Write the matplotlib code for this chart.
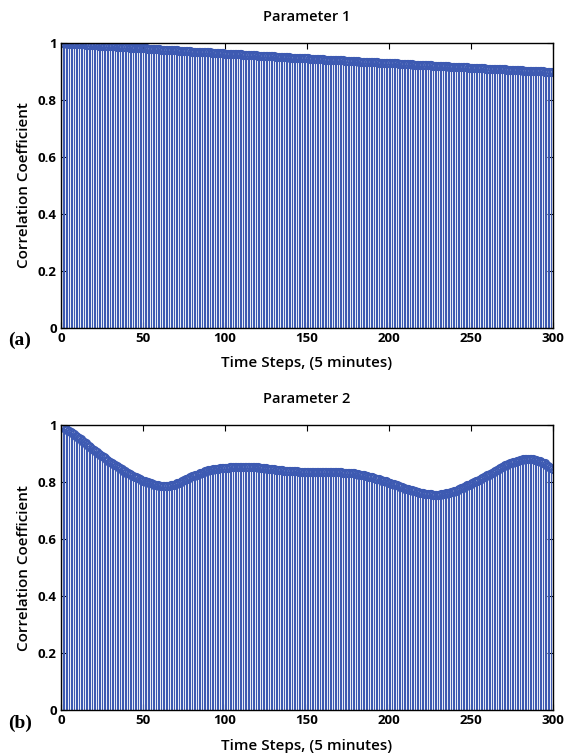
import numpy as np
import matplotlib
matplotlib.use("Agg")
import matplotlib.pyplot as plt

# time steps 0..300 (5 minute steps)
steps = list(range(301))

# Parameter 1 correlation coefficient
param1 = [
    1.000, 1.000, 0.999, 0.999, 0.998, 0.998, 0.998, 0.997, 0.997, 0.997,
    0.996, 0.996, 0.995, 0.995, 0.995, 0.994, 0.994, 0.994, 0.993, 0.993,
    0.992, 0.992, 0.992, 0.991, 0.991, 0.991, 0.990, 0.990, 0.989, 0.989,
    0.989, 0.988, 0.988, 0.988, 0.987, 0.987, 0.986, 0.986, 0.986, 0.985,
    0.985, 0.985, 0.984, 0.984, 0.984, 0.983, 0.983, 0.982, 0.982, 0.982,
    0.981, 0.981, 0.981, 0.980, 0.980, 0.979, 0.979, 0.979, 0.978, 0.978,
    0.978, 0.977, 0.977, 0.977, 0.976, 0.976, 0.976, 0.975, 0.975, 0.974,
    0.974, 0.974, 0.973, 0.973, 0.973, 0.972, 0.972, 0.972, 0.971, 0.971,
    0.970, 0.970, 0.970, 0.969, 0.969, 0.969, 0.968, 0.968, 0.968, 0.967,
    0.967, 0.967, 0.966, 0.966, 0.965, 0.965, 0.965, 0.964, 0.964, 0.964,
    0.963, 0.963, 0.963, 0.962, 0.962, 0.962, 0.961, 0.961, 0.961, 0.960,
    0.960, 0.959, 0.959, 0.959, 0.958, 0.958, 0.958, 0.957, 0.957, 0.957,
    0.956, 0.956, 0.955, 0.955, 0.955, 0.954, 0.954, 0.954, 0.953, 0.953,
    0.953, 0.952, 0.952, 0.952, 0.951, 0.951, 0.951, 0.950, 0.950, 0.950,
    0.949, 0.949, 0.949, 0.948, 0.948, 0.948, 0.947, 0.947, 0.947, 0.946,
    0.946, 0.946, 0.945, 0.945, 0.945, 0.944, 0.944, 0.944, 0.943, 0.943,
    0.943, 0.942, 0.942, 0.942, 0.941, 0.941, 0.941, 0.940, 0.940, 0.940,
    0.939, 0.939, 0.939, 0.938, 0.938, 0.938, 0.937, 0.937, 0.937, 0.936,
    0.936, 0.936, 0.935, 0.935, 0.935, 0.934, 0.934, 0.934, 0.933, 0.933,
    0.933, 0.932, 0.932, 0.932, 0.931, 0.931, 0.931, 0.930, 0.930, 0.930,
    0.929, 0.929, 0.929, 0.928, 0.928, 0.928, 0.927, 0.927, 0.927, 0.926,
    0.926, 0.926, 0.925, 0.925, 0.925, 0.924, 0.924, 0.924, 0.923, 0.923,
    0.923, 0.922, 0.922, 0.922, 0.921, 0.921, 0.921, 0.920, 0.920, 0.920,
    0.920, 0.919, 0.919, 0.919, 0.918, 0.918, 0.918, 0.917, 0.917, 0.917,
    0.916, 0.916, 0.916, 0.915, 0.915, 0.915, 0.914, 0.914, 0.914, 0.913,
    0.913, 0.913, 0.913, 0.912, 0.912, 0.912, 0.911, 0.911, 0.911, 0.910,
    0.910, 0.910, 0.909, 0.909, 0.909, 0.908, 0.908, 0.908, 0.907, 0.907,
    0.907, 0.907, 0.906, 0.906, 0.906, 0.905, 0.905, 0.905, 0.904, 0.904,
    0.904, 0.904, 0.903, 0.903, 0.903, 0.902, 0.902, 0.902, 0.901, 0.901,
    0.901, 0.901, 0.900, 0.900, 0.900, 0.899, 0.899, 0.899, 0.898, 0.898,
    0.898,
]

# Parameter 2 correlation coefficient
param2 = [
    1.000, 0.996, 0.992, 0.988, 0.984, 0.980, 0.976, 0.972, 0.968, 0.964,
    0.960, 0.955, 0.951, 0.946, 0.941, 0.937, 0.932, 0.927, 0.922, 0.918,
    0.913, 0.909, 0.905, 0.900, 0.896, 0.892, 0.888, 0.884, 0.879, 0.875,
    0.871, 0.867, 0.864, 0.860, 0.856, 0.853, 0.849, 0.845, 0.841, 0.838,
    0.834, 0.831, 0.828, 0.825, 0.822, 0.820, 0.817, 0.814, 0.811, 0.808,
    0.805, 0.803, 0.801, 0.800, 0.798, 0.796, 0.794, 0.792, 0.791, 0.789,
    0.787, 0.786, 0.786, 0.786, 0.786, 0.787, 0.788, 0.789, 0.791, 0.792,
    0.794, 0.797, 0.799, 0.802, 0.805, 0.808, 0.810, 0.813, 0.816, 0.818,
    0.821, 0.823, 0.825, 0.827, 0.829, 0.832, 0.834, 0.836, 0.838, 0.840,
    0.842, 0.843, 0.844, 0.845, 0.846, 0.847, 0.848, 0.849, 0.849, 0.850,
    0.851, 0.851, 0.851, 0.852, 0.852, 0.852, 0.852, 0.853, 0.853, 0.853,
    0.853, 0.853, 0.853, 0.853, 0.853, 0.853, 0.853, 0.852, 0.852, 0.852,
    0.852, 0.851, 0.851, 0.850, 0.849, 0.849, 0.848, 0.847, 0.847, 0.846,
    0.845, 0.844, 0.844, 0.843, 0.843, 0.842, 0.841, 0.841, 0.840, 0.840,
    0.839, 0.839, 0.838, 0.838, 0.838, 0.837, 0.837, 0.837, 0.836, 0.836,
    0.836, 0.836, 0.836, 0.836, 0.836, 0.835, 0.835, 0.835, 0.835, 0.835,
    0.835, 0.835, 0.835, 0.835, 0.835, 0.835, 0.835, 0.835, 0.835, 0.835,
    0.835, 0.835, 0.834, 0.834, 0.833, 0.833, 0.832, 0.832, 0.831, 0.831,
    0.830, 0.829, 0.827, 0.826, 0.825, 0.824, 0.822, 0.821, 0.820, 0.818,
    0.817, 0.815, 0.813, 0.812, 0.810, 0.808, 0.806, 0.804, 0.803, 0.801,
    0.799, 0.797, 0.795, 0.793, 0.791, 0.789, 0.786, 0.784, 0.782, 0.780,
    0.778, 0.776, 0.775, 0.773, 0.772, 0.770, 0.768, 0.767, 0.765, 0.764,
    0.762, 0.761, 0.760, 0.759, 0.759, 0.758, 0.758, 0.757, 0.757, 0.757,
    0.757, 0.757, 0.758, 0.759, 0.760, 0.761, 0.763, 0.764, 0.766, 0.767,
    0.769, 0.771, 0.774, 0.776, 0.779, 0.781, 0.784, 0.787, 0.789, 0.792,
    0.794, 0.797, 0.800, 0.803, 0.806, 0.809, 0.812, 0.815, 0.818, 0.821,
    0.824, 0.827, 0.830, 0.834, 0.837, 0.840, 0.843, 0.846, 0.850, 0.853,
    0.856, 0.859, 0.862, 0.864, 0.866, 0.868, 0.870, 0.872, 0.874, 0.876,
    0.878, 0.879, 0.880, 0.881, 0.882, 0.882, 0.882, 0.881, 0.880, 0.879,
    0.878, 0.876, 0.874, 0.872, 0.869, 0.866, 0.862, 0.858, 0.854, 0.850,
    0.846,
]

panels = [("Parameter 1", param1, "(a)"), ("Parameter 2", param2, "(b)")]

xticks = [0, 50, 100, 150, 200, 250, 300]
yticks = [0, 0.2, 0.4, 0.6, 0.8, 1]
ytick_labels = ["0", "0.2", "0.4", "0.6", "0.8", "1"]

stem_color = "#3d5ab2"
label_font = ["Open Sans", "DejaVu Sans"]

fig = plt.figure(figsize=(5.64, 7.54), dpi=100)

# axes rectangles in figure fractions (left, bottom, width, height)
rects = [(0.108, 0.565, 0.872, 0.378), (0.108, 0.058, 0.872, 0.378)]

for (title, vals, tag), rect in zip(panels, rects):
    ax = fig.add_axes(rect)
    markers, stems, base = ax.stem(steps, vals, basefmt=" ")
    plt.setp(stems, color=stem_color, linewidth=0.8)
    plt.setp(markers, marker="o", markersize=5.5, markerfacecolor="none",
             markeredgecolor=stem_color, markeredgewidth=1.1)

    ax.set_xlim(0, 300)
    ax.set_ylim(0, 1)
    ax.set_xticks(xticks)
    ax.set_xticklabels([str(t) for t in xticks])
    ax.set_yticks(yticks)
    ax.set_yticklabels(ytick_labels)
    ax.tick_params(direction="in", top=True, right=True, length=4, width=0.8,
                   labelsize=9.5, pad=3)
    for lab in ax.get_xticklabels() + ax.get_yticklabels():
        lab.set_fontweight("bold")
        lab.set_family(label_font)
    for sp in ax.spines.values():
        sp.set_linewidth(1.0)

    ax.set_title(title, fontsize=10.5, fontweight="semibold", family=label_font, pad=16)
    ax.set_xlabel("Time Steps, (5 minutes)", fontsize=11, fontweight="semibold",
                  family=label_font, labelpad=8)
    ax.set_ylabel("Correlation Coefficient", fontsize=11, fontweight="semibold",
                  family=label_font, labelpad=5)

    # panel tag at lower left
    ax.text(-0.107, -0.045, tag, transform=ax.transAxes, fontsize=14,
            fontweight="bold", family=["Liberation Serif", "DejaVu Serif"],
            ha="left", va="center")

fig.savefig("out.png", dpi=100)
